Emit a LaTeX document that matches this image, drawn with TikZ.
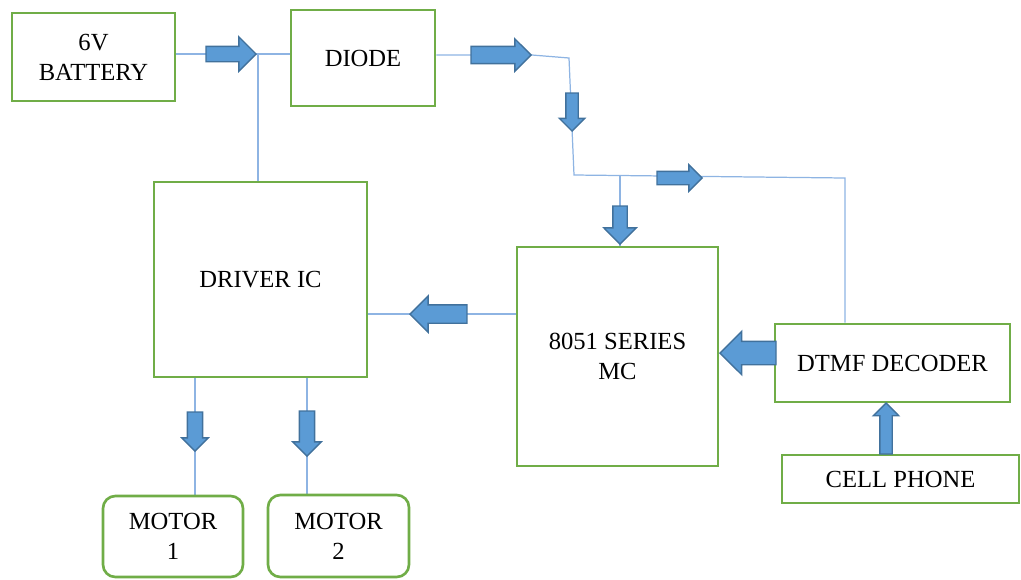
\documentclass[tikz,border=0pt]{standalone}
\usepackage{fontspec}
\setmainfont{Liberation Serif}
\usepackage{xcolor}
\usepackage{tikz}
\usetikzlibrary{shapes.arrows, backgrounds}
\definecolor{boxgreen}{HTML}{70AD47}
\definecolor{arrfill}{HTML}{5B9BD5}
\definecolor{arrline}{HTML}{41719C}
\definecolor{wireblue}{HTML}{8EB4E3}

\begin{document}
\begin{tikzpicture}[x=0.02cm, y=-0.02cm,
  blk/.style={draw=boxgreen, line width=1.5pt, fill=white, align=center,
    font=\fontsize{14}{17}\selectfont, inner sep=0pt},
  rblk/.style={blk, rounded corners=7pt},
  wire/.style={draw=wireblue, line width=0.7pt},
  barrow/.style n args={4}{single arrow, draw=arrline, fill=arrfill, line width=0.8pt,
    inner sep={#3*0.01cm}, minimum height=#1*0.02cm, anchor=tip,
    single arrow head extend={(#2-#3)/2*0.02cm}, shape border rotate=#4}]
\useasboundingbox (0,0) rectangle (1021,579);
\node[blk, minimum width=3.26cm, minimum height=1.76cm] (bat) at (93.5,57) {6V\\BATTERY};
\node[blk, minimum width=2.88cm, minimum height=1.92cm] (diode) at (363,58) {DIODE};
\node[blk, minimum width=4.26cm, minimum height=3.9cm] (drv) at (260.5,279.5) {DRIVER IC};
\node[blk, minimum width=4.02cm, minimum height=4.38cm] (mcu) at (617.5,356.5) {8051 SERIES\\MC};
\node[blk, minimum width=4.7cm, minimum height=1.56cm] (dtmf) at (892.5,363) {DTMF DECODER};
\node[blk, minimum width=4.74cm, minimum height=0.96cm] (cell) at (900.5,479) {CELL PHONE};
\node[rblk, minimum width=2.8cm, minimum height=1.62cm] (m1) at (173,536.5) {MOTOR\\1};
\node[rblk, minimum width=2.82cm, minimum height=1.64cm] (m2) at (338.5,536) {MOTOR\\2};

\coordinate (j1) at (258,54);
\coordinate (k1) at (569,58);
\coordinate (k2) at (574,175);
\coordinate (k3) at (845,178);
\coordinate (k5) at (620,176);

\node[barrow={50}{33}{14}{0}] (a1) at (257,54) {};
\node[barrow={60}{31}{16}{0}] (a2) at (532,55) {};
\node[barrow={38}{24}{11}{270}] (a3) at (572,132) {};
\node[barrow={45}{25}{12}{0}] (a4) at (703,178) {};
\node[barrow={38}{31}{13}{270}] (a5) at (620,245) {};
\node[barrow={56}{42}{22}{180}] (a6) at (719,353) {};
\node[barrow={57}{35}{17}{180}] (a7) at (409,314) {};
\node[barrow={39}{25}{14}{270}] (a8) at (195,452) {};
\node[barrow={45}{27}{14}{270}] (a9) at (307,457) {};
\node[barrow={51}{24}{11}{90}] (a10) at (886,402) {};

\begin{scope}[on background layer]
\draw[wire] (bat.east |- a1) -- (j1) -- (diode.west |- j1);
\draw[wire] (j1) -- (j1 |- drv.north);
\draw[wire] (diode.east |- a2) -- (a2.tip) -- (k1) -- (k2) -- (k3) -- (dtmf.north -| k3);
\draw[wire] (k5) -- (mcu.north -| k5);
\draw[wire] (mcu.west |- a7) -- (drv.east |- a7);
\draw[wire] (drv.south -| a8) -- (m1.north -| a8);
\draw[wire] (drv.south -| a9) -- (m2.north -| a9);
\end{scope}
\end{tikzpicture}
\end{document}
